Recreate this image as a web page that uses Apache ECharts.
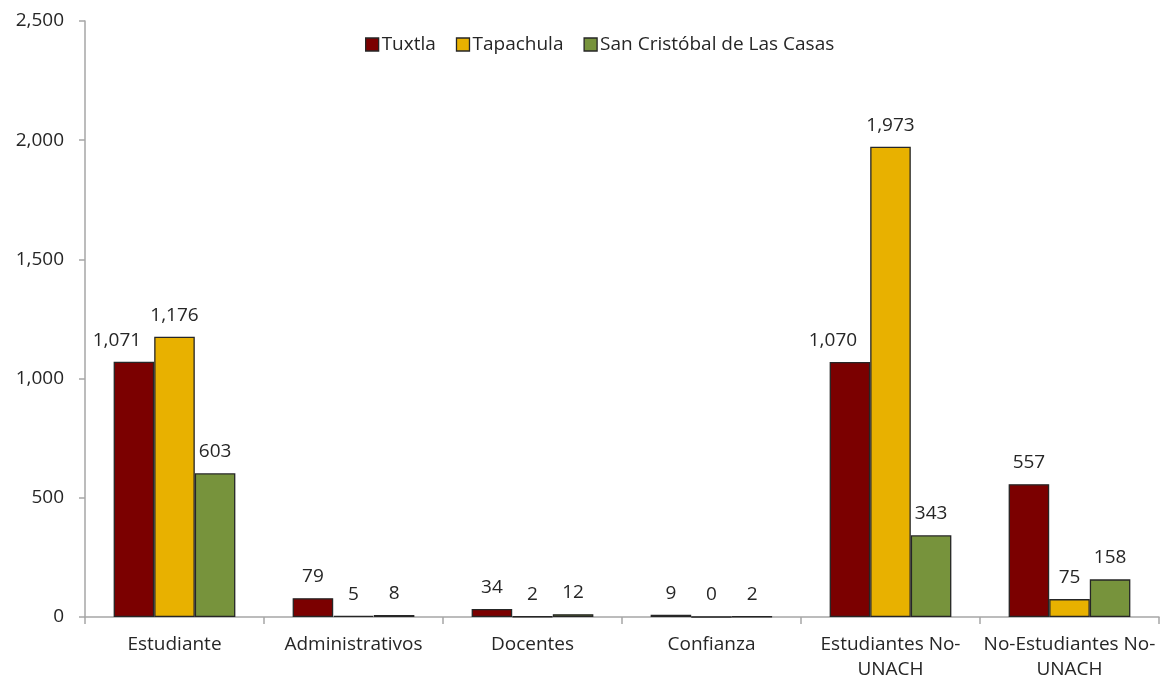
<!DOCTYPE html>
<html><head><meta charset="utf-8">
<script src="https://cdn.jsdelivr.net/npm/echarts@6/dist/echarts.min.js"></script>
<style>html,body{margin:0;padding:0;background:#fff}#c{width:1161px;height:682px}</style>
</head><body><div id="c"></div>
<script>
const categories = ['Estudiante', 'Administrativos', 'Docentes', 'Confianza', 'Estudiantes No-\nUNACH', 'No-Estudiantes No-\nUNACH'];
const seriesNames = ['Tuxtla', 'Tapachula', 'San Cristóbal de Las Casas'];
const tuxtla = [1071, 79, 34, 9, 1070, 557];
const tapachula = [1176, 5, 2, 0, 1973, 75];
const sanCristobal = [603, 8, 12, 2, 343, 158];
const colors = ['#7B0000', '#E8B100', '#77933C'];
const FONT = '"Open Sans", sans-serif';
const FS = 19;

const chart = echarts.init(document.getElementById('c'));
const fmt = v => v.toLocaleString('en-US');
// Tuxtla labels are nudged left where they would collide with a taller neighbour
const mk = (name, data, color, shiftLeft) => ({
  name, type: 'bar',
  data: data.map((v, i) => (shiftLeft && v > 1000) ? { value: v, label: { offset: [-17, 0] } } : v),
  barGap: '0%', barCategoryGap: '32%',
  itemStyle: { color, borderColor: '#262626', borderWidth: 1.3 },
  label: { show: true, position: 'top', distance: 12, color: '#262626', fontSize: FS, fontFamily: FONT,
    formatter: p => fmt(p.value) },
  emphasis: { disabled: true }
});
chart.setOption({
  animation: false,
  textStyle: { fontFamily: FONT },
  legend: {
    top: 30, left: 360, icon: 'rect', itemWidth: 13, itemHeight: 13, itemGap: 20,
    textStyle: { fontSize: FS, color: '#262626', fontFamily: FONT, padding: [0, 0, 0, -2] },
    itemStyle: { borderColor: '#262626', borderWidth: 1.3 },
    data: seriesNames
  },
  grid: { left: 85, right: 2, top: 21, bottom: 62, containLabel: false },
  xAxis: {
    type: 'category', data: categories,
    axisLine: { lineStyle: { color: '#A6A6A6', width: 1.5 } },
    axisTick: { show: true, length: 7, lineStyle: { color: '#A6A6A6', width: 1.5 } },
    axisLabel: { color: '#262626', fontSize: FS, fontFamily: FONT, margin: 15, lineHeight: 25, interval: 0 }
  },
  yAxis: {
    type: 'value', min: 0, max: 2500, interval: 500,
    splitLine: { show: false },
    axisLine: { show: true, lineStyle: { color: '#A6A6A6', width: 1.5 } },
    axisTick: { show: true, length: 6, lineStyle: { color: '#A6A6A6', width: 1.5 } },
    axisLabel: { color: '#262626', fontSize: FS, fontFamily: FONT, margin: 21, formatter: v => fmt(v) }
  },
  series: [mk(seriesNames[0], tuxtla, colors[0], true), mk(seriesNames[1], tapachula, colors[1], false), mk(seriesNames[2], sanCristobal, colors[2], false)]
});
</script></body></html>
